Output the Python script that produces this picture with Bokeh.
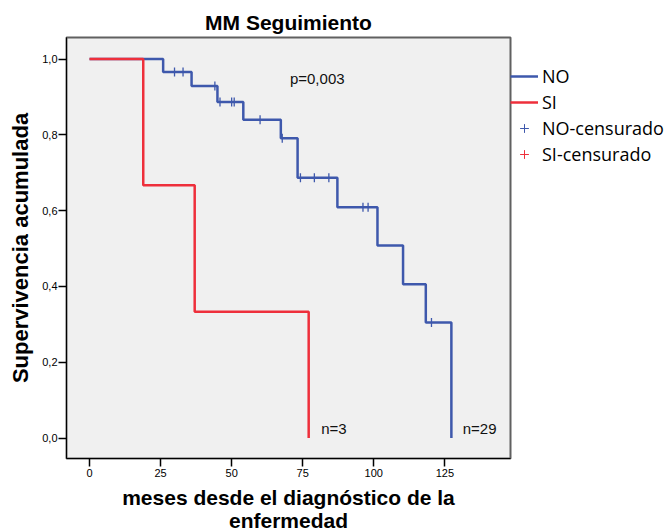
import math
from bokeh.plotting import figure
from bokeh.models import Legend, LegendItem, Range1d, FixedTicker, CustomJSTickFormatter
from bokeh.core.properties import value
from bokeh.embed import file_html
from bokeh.resources import INLINE

# ---- data ----
no_times = [0, 25.9, 35.9, 45.0, 54.1, 67.3, 73.2, 87.2, 101.3, 110.3, 118.3, 127.3]
no_surv = [1.0, 0.966, 0.929, 0.887, 0.840, 0.791, 0.687, 0.609, 0.508, 0.406, 0.305, 0.0]
si_times = [0, 18.9, 37.0, 77.1]
si_surv = [1.0, 0.667, 0.333, 0.0]
no_cens_times = [29.9, 32.9, 44.1, 45.9, 50.0, 50.9, 60.0, 67.8, 74.2, 79.1, 84.2, 96.2, 98.0, 120.3]
no_cens_surv = [0.966, 0.966, 0.929, 0.887, 0.887, 0.887, 0.840, 0.791, 0.687, 0.687, 0.687, 0.609, 0.609, 0.305]
si_cens_times = []
si_cens_surv = []
x_ticks = [0, 25, 50, 75, 100, 125]
y_ticks = [0.0, 0.2, 0.4, 0.6, 0.8, 1.0]
annotations = ["p=0,003", "n=3", "n=29"]
ann_x = [70.5, 81.5, 131.3]
ann_y = [0.95, 0.024, 0.024]

BLUE = "#3e58ac"
RED = "#ee2f3b"
FONT = "Liberation Sans"

p = figure(frame_width=444, frame_height=421, output_backend="svg", toolbar_location=None,
           min_border_left=66, min_border_right=156, min_border_top=37, min_border_bottom=74,
           x_range=Range1d(-8.1, 148.1), y_range=Range1d(-0.054, 1.057))
p.background_fill_color = "#f0f0f0"
p.border_fill_color = "white"
p.outline_line_color = "#606060"
p.outline_line_width = 2
p.grid.visible = False

p.title.text = "MM Seguimiento"
p.title.align = "center"
p.title.text_font = FONT
p.title.text_font_size = "21px"
p.title.text_font_style = "bold"
p.title.text_color = "black"
p.title.standoff = 7

for ax in (p.xaxis[0], p.yaxis[0]):
    ax.axis_line_color = "black"
    ax.axis_line_width = 1
    ax.major_tick_line_color = "black"
    ax.major_tick_line_width = 1.5
    ax.minor_tick_line_color = None
    ax.major_tick_in = 0
    ax.major_tick_out = 8
    ax.major_label_text_font = FONT
    ax.major_label_text_font_size = "11px"
    ax.major_label_text_color = "black"
    ax.axis_label_text_font = FONT
    ax.axis_label_text_font_style = "bold"
    ax.axis_label_text_color = "black"

p.xaxis[0].ticker = FixedTicker(ticks=x_ticks)
p.yaxis[0].ticker = FixedTicker(ticks=y_ticks)
p.yaxis[0].formatter = CustomJSTickFormatter(code="return tick.toFixed(1).replace('.', ',');")
p.xaxis[0].major_label_standoff = 2
p.yaxis[0].major_label_standoff = 1
p.xaxis[0].axis_label = "meses desde el diagnóstico de la\nenfermedad"
p.xaxis[0].axis_label_text_font_size = "21px"
p.xaxis[0].axis_label_text_line_height = 1.0
p.xaxis[0].axis_label_standoff = 6
p.yaxis[0].axis_label = "Supervivencia acumulada"
p.yaxis[0].axis_label_text_font_size = "22px"
p.yaxis[0].axis_label_standoff = 6

r_no = p.step(no_times, no_surv, mode="after", line_color=BLUE, line_width=2.5)
r_no_c = p.scatter(no_cens_times, no_cens_surv, marker="dash", angle=math.pi / 2,
                   size=9, line_color=BLUE, line_width=1.3)
r_si = p.step(si_times, si_surv, mode="after", line_color=RED, line_width=2.5)
r_si_c = p.scatter(si_cens_times, si_cens_surv, marker="dash", angle=math.pi / 2,
                   size=9, line_color=RED, line_width=1.3)

p.text(ann_x, ann_y, text=annotations, text_font=value(FONT), text_font_size="15px",
       text_color="#111111", text_baseline="middle", text_align="left")

# legend-only icon renderers (single point far outside the visible range)
l_no_c = p.scatter([-1000], [-1000], marker="cross", size=22, line_color=BLUE, line_width=1)
l_si_c = p.scatter([-1000], [-1000], marker="cross", size=22, line_color=RED, line_width=1)

legend = Legend(items=[LegendItem(label="NO", renderers=[r_no]),
                       LegendItem(label="SI", renderers=[r_si]),
                       LegendItem(label="NO-censurado", renderers=[l_no_c]),
                       LegendItem(label="SI-censurado", renderers=[l_si_c])],
                location="top_left")
legend.title = " "
legend.title_text_font_size = "14px"
legend.title_standoff = 11
legend.background_fill_alpha = 0
legend.border_line_color = None
legend.label_text_font = "Open Sans"
legend.label_text_font_size = "18px"
legend.label_text_color = "black"
legend.label_standoff = 4
legend.glyph_width = 28
legend.glyph_height = 22
legend.label_height = 22
legend.spacing = 2
legend.padding = 0
legend.margin = 0
p.add_layout(legend, "right")

open("out.html", "w").write(file_html(p, INLINE))
